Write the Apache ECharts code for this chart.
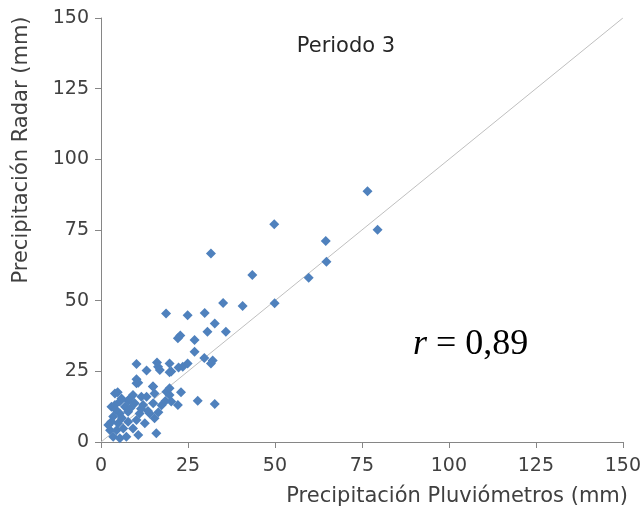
<!DOCTYPE html>
<html>
<head>
<meta charset="utf-8">
<script src="https://cdn.jsdelivr.net/npm/echarts@6/dist/echarts.min.js"></script>
<style>html,body{margin:0;padding:0;background:#fff;}#c{width:644px;height:518px;}</style>
</head>
<body>
<div id="c"></div>
<script>
var xTicks = [0, 25, 50, 75, 100, 125, 150];
var yTicks = [0, 25, 50, 75, 100, 125, 150];
var pluviometros = [76.6,79.5,49.8,64.6,64.8,59.7,43.5,40.7,49.9,31.6,35.1,18.7,24.9,29.8,32.7,30.6,35.9,22.8,22.1,26.9,26.9,29.7,32.1,31.6,16.1,16.4,19.7,19.7,22.3,23.5,24.9,14.9,23.0,27.8,32.7,22.1,10.2,13.1,10.2,10.7,16.9,20.2,4.8,7.8,11.6,15.4,18.8,19.7,20.2,5.4,3.0,19.7,10.2,15.0,4.0,5.9,8.3,9.2,13.1,4.0,6.9,9.7,12.1,15.0,3.5,5.4,7.8,11.1,14.0,15.4,3.0,4.9,7.8,10.2,12.6,2.6,4.5,6.4,9.2,3.5,5.4,7.3,10.7,15.9,2.1,17.4,18.5,6.0,8.5,11.5,13.5,4.2,16.5];
var radar = [88.7,75.1,77.0,71.1,63.8,58.1,59.1,48.1,49.1,66.7,49.2,45.5,44.8,45.6,41.9,39.0,39.0,37.7,36.7,36.1,31.9,29.7,28.8,27.8,28.1,26.6,27.8,24.7,26.4,26.6,27.8,19.6,17.6,14.6,13.4,13.1,27.6,25.3,22.2,21.0,25.5,24.9,17.6,14.6,16.0,17.2,17.8,16.6,14.3,14.3,12.5,19.0,20.8,19.6,17.2,15.4,15.4,16.6,16.0,13.1,12.5,13.7,13.1,13.7,9.0,10.1,10.7,10.1,10.1,8.4,7.2,6.6,7.2,7.8,6.6,4.2,4.2,4.8,4.8,1.9,1.3,1.9,2.5,3.1,6.0,13.0,14.5,8.5,12.0,11.8,11.0,11.5,10.5];
var diagonal = [0, 150];

var points = pluviometros.map(function (x, i) { return [x, radar[i]]; });
var diagPts = diagonal.map(function (v) { return [v, v]; });

var chart = echarts.init(document.getElementById('c'));
var axisColor = '#868686';
var font = 'DejaVu Sans';
chart.setOption({
  animation: false,
  backgroundColor: '#ffffff',
  grid: { left: 101, right: 18, top: 18, bottom: 76, containLabel: false },
  xAxis: {
    type: 'value', min: xTicks[0], max: xTicks[xTicks.length - 1], interval: 25,
    axisLine: { show: true, lineStyle: { color: axisColor, width: 1 } },
    axisTick: { show: true, length: 6, lineStyle: { color: axisColor } },
    splitLine: { show: false },
    axisLabel: { color: '#404040', fontSize: 19, fontFamily: font, margin: 15 }
  },
  yAxis: {
    type: 'value', min: yTicks[0], max: yTicks[yTicks.length - 1], interval: 25,
    axisLine: { show: true, lineStyle: { color: axisColor, width: 1 } },
    axisTick: { show: true, length: 6, lineStyle: { color: axisColor } },
    splitLine: { show: false },
    axisLabel: { color: '#404040', fontSize: 19, fontFamily: font, margin: 12 }
  },
  series: [
    {
      type: 'line', data: diagPts, symbol: 'none', silent: true,
      lineStyle: { color: '#BFBFBF', width: 1 }, z: 1
    },
    {
      type: 'scatter', data: points, symbol: 'diamond', symbolSize: 10,
      itemStyle: { color: '#4F81BD', opacity: 1 }, z: 2
    }
  ],
  graphic: [
    { type: 'text', x: 628, y: 497, style: { text: 'Precipitación Pluviómetros (mm)', fill: '#404040', font: '21px "DejaVu Sans"', textAlign: 'right', textVerticalAlign: 'middle' } },
    { type: 'text', x: 22, y: 150, rotation: Math.PI / 2, style: { text: 'Precipitación Radar (mm)', fill: '#404040', font: '21px "DejaVu Sans"', textAlign: 'center', textVerticalAlign: 'middle' } },
    { type: 'text', x: 346, y: 47, style: { text: 'Periodo 3', fill: '#262626', font: '21px "DejaVu Sans"', textAlign: 'center', textVerticalAlign: 'middle' } },
    { type: 'text', x: 413, y: 345, style: {
        text: '{i|r} = 0,89',
        textVerticalAlign: 'middle',
        rich: { i: { fontStyle: 'italic', fontFamily: 'Liberation Serif', fontSize: 36, fill: '#000' } },
        font: '36px "Liberation Serif"', fill: '#000' } }
  ]
});
</script>
</body>
</html>
